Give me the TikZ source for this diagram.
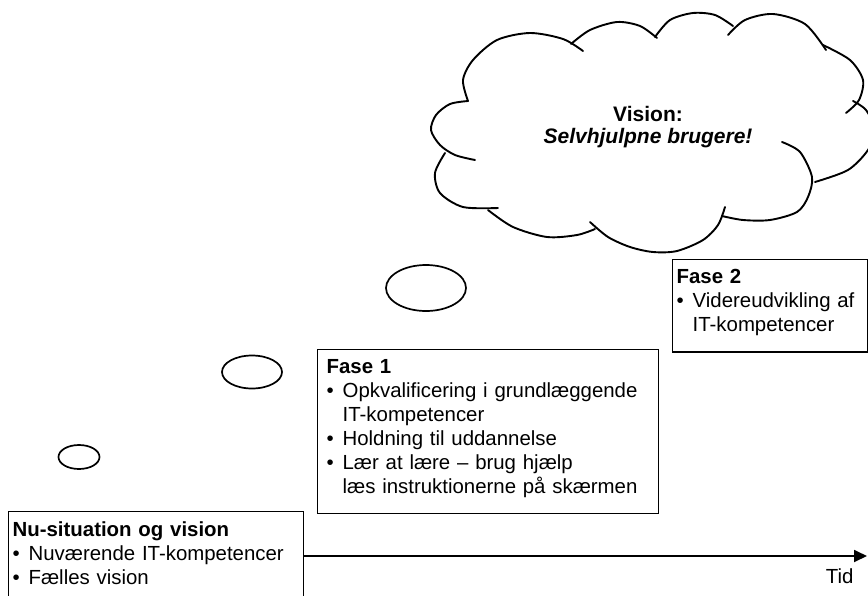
\documentclass[tikz,border=0pt]{standalone}
\usepackage{fontspec}
\setmainfont{Liberation Sans}
\usepackage{tikz}
\usetikzlibrary{positioning,arrows.meta,shapes.geometric}

\newcommand{\bul}{\makebox[16pt][l]{\textbullet}}
\newcommand{\ind}{\hspace*{16pt}}
\newcommand{\dpfix}{\rule[-10pt]{0pt}{10pt}}

\begin{document}
\begin{tikzpicture}[x=1pt, y=-1pt,
  phase/.style={draw, line width=1.3pt, anchor=north west, align=left,
                inner xsep=8pt, inner ysep=10pt, font=\fontsize{20.4}{24}\selectfont},
  bub/.style={draw, ellipse, line width=1.7pt, inner sep=0pt},
  cl/.style={line width=1.9pt, line cap=round},
  tl/.style={-{Triangle[length=13pt,width=12pt]}, line width=1.8pt}]

\useasboundingbox (0,0) rectangle (868,595);
\clip (0,0) rectangle (868,595);

% ---- the vision cloud ----------------------------------------------------
\draw[cl] plot[smooth] coordinates {(468,101) (463,80) (473,60) (497,40) (530,33) (563,39) (583,51)};
\draw[cl] plot[smooth] coordinates {(571,44) (590,30) (617,22) (640,26) (657,38)};
\draw[cl] plot[smooth] coordinates {(655,37) (670,20) (693,13) (715,15) (733,26)};
\draw[cl] plot[smooth] coordinates {(728,35) (745,20) (773,14) (805,24) (826,50)};
\draw[cl] plot[smooth] coordinates {(823,45) (850,60) (863,80) (859,100) (846,113)};
\draw[cl] plot[smooth] coordinates {(853,101) (866,110) (875,130) (868,150) (848,170) (815,182)};
\draw[cl] plot[smooth] coordinates {(782,142) (800,152) (812,177) (808,197) (797,212) (770,220) (743,220) (722,216)};
\draw[cl] plot[smooth] coordinates {(725,207) (718,225) (703,240) (677,251) (653,252) (630,247) (608,237) (590,222)};
\draw[cl] plot[smooth] coordinates {(595,229) (577,235) (547,237) (513,227) (488,210)};
\draw[cl] plot[smooth] coordinates {(445,153) (435,173) (440,193) (463,207) (498,208)};
\draw[cl] plot[smooth] coordinates {(468,101) (450,104) (436,115) (431,130) (440,145) (455,155) (475,160)};
\node[align=center, font=\fontsize{21}{22}\selectfont\bfseries] (vision) at (648,127)
  {Vision:\\ \itshape Selvhjulpne brugere!};

% ---- thought bubbles -----------------------------------------------------
\node[bub, minimum width=41pt, minimum height=24pt] (bub1) at (79,457) {};
\node[bub, minimum width=60pt, minimum height=33pt] (bub2) at (252,372) {};
\node[bub, minimum width=80pt, minimum height=46pt] (bub3) at (426,288) {};

% ---- phases --------------------------------------------------------------
\node[phase, text width=287pt, inner xsep=4pt] (nu) at (8,511)
  {\textbf{Nu-situation og vision}\\
   \bul Nuværende IT-kompetencer\\
   \bul Fælles vision\dpfix};
\node[phase, text width=323pt, inner xsep=9pt] (fase1) at (317,349)
  {\textbf{Fase 1}\\
   \bul Opkvalificering i grundlæggende\\
   \ind IT-kompetencer\\
   \bul Holdning til uddannelse\\
   \bul Lær at lære – brug hjælp\\
   \ind læs instruktionerne på skærmen\dpfix};
\node[phase, text width=187pt, inner xsep=4pt] (fase2) at (672,259)
  {\textbf{Fase 2}\\
   \bul Videreudvikling af\\
   \ind IT-kompetencer\dpfix};

% ---- time axis -----------------------------------------------------------
\coordinate (tidend) at (867,556);
\draw[tl] (nu.east |- tidend) -- (tidend);
\node[anchor=base east, font=\fontsize{20.4}{24}\selectfont] (tid) at (857,583) {Tid};

\end{tikzpicture}
\end{document}
